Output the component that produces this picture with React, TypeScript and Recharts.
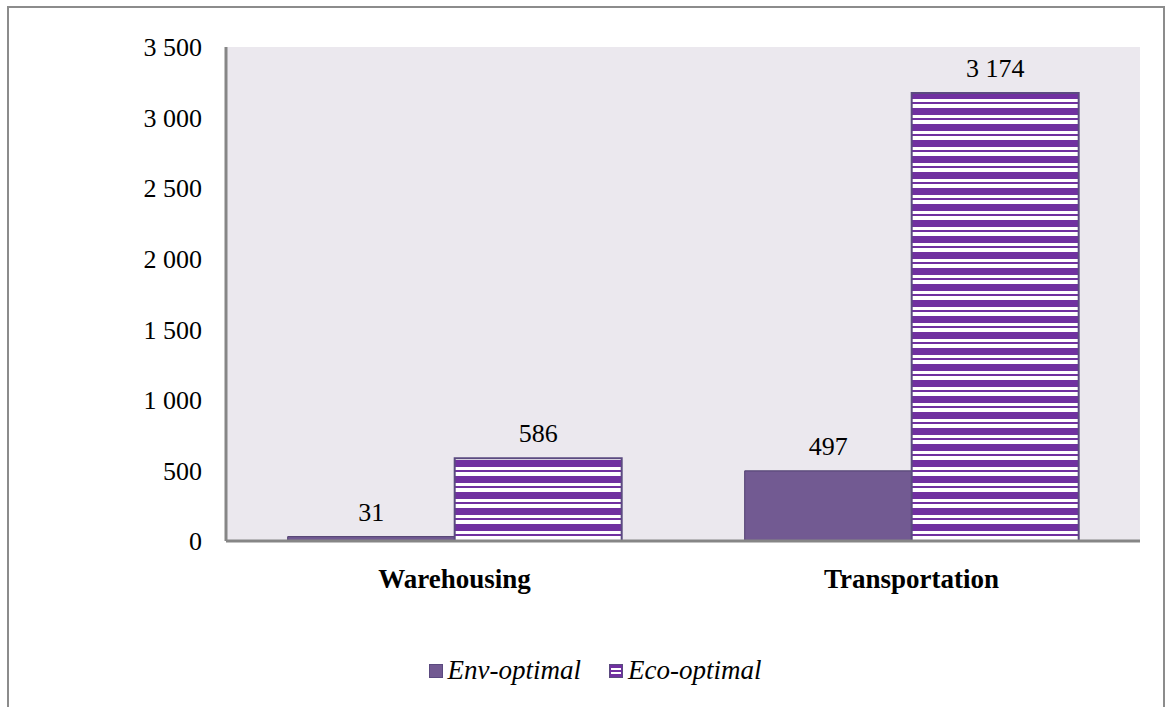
import { BarChart, Bar, XAxis, YAxis, CartesianGrid, LabelList } from 'recharts';

const categories = ['Warehousing', 'Transportation'];
const envOptimal = [31, 497];
const ecoOptimal = [586, 3174];
const yTicks = [0, 500, 1000, 1500, 2000, 2500, 3000, 3500];

const data = categories.map((name, i) => ({ name, env: envOptimal[i], eco: ecoOptimal[i] }));

const fmt = (v: number) => String(v).replace(/\B(?=(\d{3})+(?!\d))/g, ' ');

const FONT = "'Liberation Serif', 'Times New Roman', serif";
const ENV = '#725A92';
const ECO = '#7030A0';

function LegendBox() {
  const item = (label: string, striped: boolean) => (
    <span style={{ display: 'inline-flex', alignItems: 'center', margin: '0 14px' }}>
      <svg width={14} height={14} style={{ marginRight: 5 }}>
        {striped ? (
          <>
            <rect x={0.5} y={0.5} width={13} height={13} fill={ECO} stroke="#5B4A80" />
            <rect x={2} y={4} width={10} height={2} fill="#fff" />
            <rect x={2} y={8} width={10} height={2} fill="#fff" />
          </>
        ) : (
          <rect x={0.5} y={0.5} width={13} height={13} fill={ENV} stroke="#5B4A80" />
        )}
      </svg>
      <span style={{ fontStyle: 'italic', fontSize: 27, fontFamily: FONT, color: '#000' }}>{label}</span>
    </span>
  );
  return (
    <div style={{ position: 'absolute', left: 0, right: 0, top: 647, display: 'flex', justifyContent: 'center', paddingLeft: 18 }}>
      {item('Env-optimal', false)}
      {item('Eco-optimal', true)}
    </div>
  );
}

const tickStyle = { fill: '#000', fontSize: 26, style: { fontFamily: FONT } };

export default function App() {
  return (
    <div
      style={{
        position: 'absolute',
        left: 7,
        top: 6,
        width: 1154,
        height: 720,
        border: '2px solid #8c8c8c',
        borderBottom: 'none',
        background: '#fff',
        fontFamily: FONT,
      }}
    >
      <BarChart
        width={1152}
        height={699}
        data={data}
        barCategoryGap="13.5%"
        barGap={0}
        margin={{ top: 39, right: 21, left: 0, bottom: 96 }}
        style={{ fontFamily: FONT }}
      >
        <defs>
          <pattern id="ecoStripes" patternUnits="userSpaceOnUse" width={16} height={16}>
            <rect x={0} y={0} width={16} height={16} fill={ECO} />
            <rect x={0} y={0} width={16} height={4} fill="#fff" />
            <rect x={0} y={11} width={16} height={3} fill="#fff" />
          </pattern>
        </defs>
        <CartesianGrid fill="#EBE8EE" horizontal={false} vertical={false} />
        <XAxis
          dataKey="name"
          axisLine={{ stroke: '#868686', strokeWidth: 3 }}
          tickLine={false}
          tickMargin={22}
          height={70}
          tick={{ ...tickStyle, fontSize: 27, fontWeight: 'bold' }}
        />
        <YAxis
          width={217}
          domain={[0, 3500]}
          ticks={yTicks}
          tickFormatter={fmt}
          axisLine={{ stroke: '#868686', strokeWidth: 3 }}
          tickLine={false}
          tickMargin={18}
          tick={tickStyle}
        />
        <Bar dataKey="env" name="Env-optimal" fill={ENV} stroke="#4F3D6E" strokeWidth={1} isAnimationActive={false}>
          <LabelList dataKey="env" position="top" offset={16} formatter={fmt} fill="#000" fontSize={26} style={{ fontFamily: FONT }} />
        </Bar>
        <Bar dataKey="eco" name="Eco-optimal" fill="url(#ecoStripes)" stroke="#5B4A80" strokeWidth={2} isAnimationActive={false}>
          <LabelList dataKey="eco" position="top" offset={16} formatter={fmt} fill="#000" fontSize={26} style={{ fontFamily: FONT }} />
        </Bar>
      </BarChart>
      <LegendBox />
    </div>
  );
}
